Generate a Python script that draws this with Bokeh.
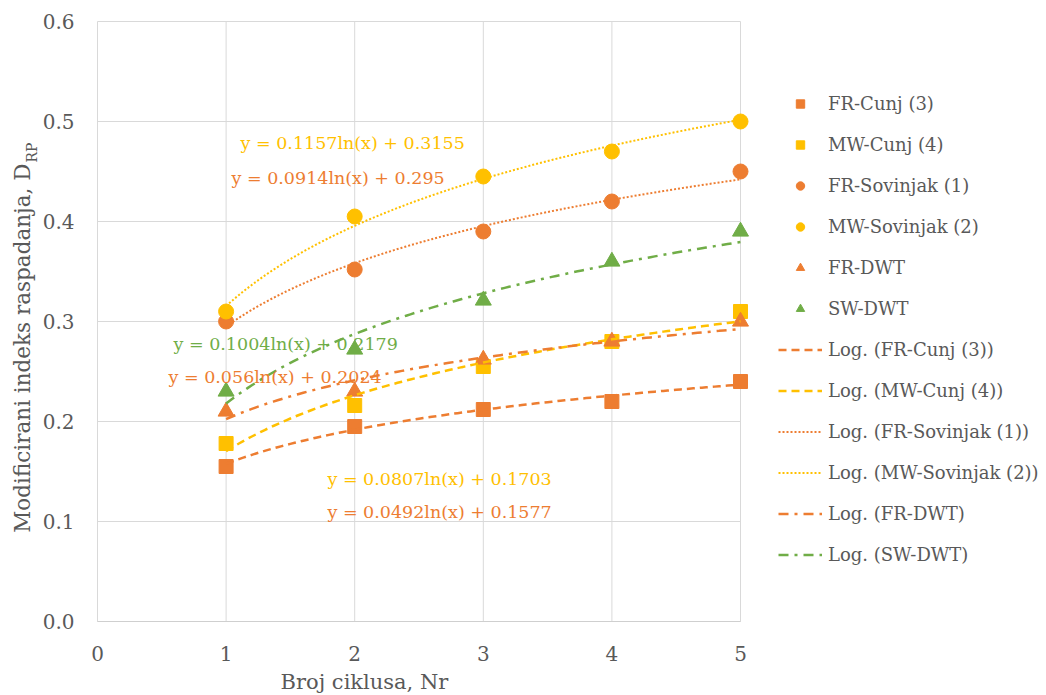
import numpy as np
from math import pi
from bokeh.plotting import figure
from bokeh.models import Range1d, Legend, LegendItem, Label, FixedTicker, NumeralTickFormatter
from bokeh.embed import file_html
from bokeh.resources import INLINE

# ---- data ----
cycles = [1, 2, 3, 4, 5]
fr_cunj = [0.155, 0.195, 0.212, 0.220, 0.240]
mw_cunj = [0.178, 0.216, 0.255, 0.280, 0.310]
fr_sov = [0.300, 0.352, 0.390, 0.420, 0.450]
mw_sov = [0.310, 0.405, 0.445, 0.470, 0.500]
fr_dwt = [0.210, 0.230, 0.262, 0.280, 0.300]
sw_dwt = [0.230, 0.272, 0.321, 0.360, 0.390]

series_names = ["FR-Cunj (3)", "MW-Cunj (4)", "FR-Sovinjak (1)",
                "MW-Sovinjak (2)", "FR-DWT", "SW-DWT"]
series_values = [fr_cunj, mw_cunj, fr_sov, mw_sov, fr_dwt, sw_dwt]

# logarithmic trendlines y = a ln(x) + b (from the chart's equations)
trend_a = [0.0492, 0.0807, 0.0914, 0.1157, 0.056, 0.1004]
trend_b = [0.1577, 0.1703, 0.295, 0.3155, 0.2024, 0.2179]

eq_texts = ["y = 0.1157ln(x) + 0.3155", "y = 0.0914ln(x) + 0.295",
            "y = 0.1004ln(x) + 0.2179", "y = 0.056ln(x) + 0.2024",
            "y = 0.0807ln(x) + 0.1703", "y = 0.0492ln(x) + 0.1577"]

x_ticks = [0, 1, 2, 3, 4, 5]
y_ticks = [0.0, 0.1, 0.2, 0.3, 0.4, 0.5, 0.6]

x_title = "Broj ciklusa, Nr"
y_title = "Modificirani indeks raspadanja, D"
y_title_sub = "RP"

# ---- styles / geometry ----
ORANGE = "#ED7D31"
YELLOW = "#FFC000"
GREEN = "#70AD47"
TXT = "#595959"
GRID = "#D9D9D9"
FONT = "DejaVu Serif"

colors = [ORANGE, YELLOW, ORANGE, YELLOW, ORANGE, GREEN]
markers = ["square", "square", "circle", "circle", "triangle", "triangle"]
msizes = [14, 14, 15, 15, 16, 16]
dashes = ["8 5", "8 5", "2 2", "2 2", "10 6 3 6", "10 6 3 6"]
lwidths = [2.5, 2.5, 2, 2, 2.5, 2.5]

eq_x = [1.112, 1.042, 0.591, 0.552, 1.788, 1.788]
eq_y = [0.479, 0.444, 0.278, 0.245, 0.143, 0.110]
eq_colors = [YELLOW, ORANGE, GREEN, ORANGE, YELLOW, ORANGE]

W, H = 1046, 695
PX_X = 128.6      # pixels per x unit
PX_Y = 1000.0     # pixels per y unit
X0_PX, Y0_PX = 97, 621   # canvas position of the origin

p = figure(width=W, height=H, output_backend="svg", toolbar_location=None,
           x_range=Range1d(-X0_PX / PX_X, (W - X0_PX) / PX_X),
           y_range=Range1d(-(H - Y0_PX) / PX_Y, Y0_PX / PX_Y),
           min_border=0)
p.outline_line_color = None
p.background_fill_color = "white"
p.xgrid.visible = False
p.ygrid.visible = False

# gridlines limited to the plot area
p.segment(x0=x_ticks, y0=[y_ticks[0]] * len(x_ticks), x1=x_ticks,
          y1=[y_ticks[-1]] * len(x_ticks), line_color=GRID, line_width=1)
p.segment(x0=[x_ticks[0]] * len(y_ticks), y0=y_ticks, x1=[x_ticks[-1]] * len(y_ticks),
          y1=y_ticks, line_color=GRID, line_width=1)

# axes drawn at the origin
p.xaxis.fixed_location = 0
p.yaxis.fixed_location = 0
p.xaxis.ticker = FixedTicker(ticks=x_ticks)
p.yaxis.ticker = FixedTicker(ticks=y_ticks)
p.yaxis.formatter = NumeralTickFormatter(format="0.0")
p.xaxis.bounds = (x_ticks[0], x_ticks[-1])
p.yaxis.bounds = (y_ticks[0], y_ticks[-1])
for ax in (p.xaxis, p.yaxis):
    ax.major_tick_line_color = None
    ax.minor_tick_line_color = None
    ax.major_label_text_font = FONT
    ax.major_label_text_font_size = "20px"
    ax.major_label_text_color = TXT
p.xaxis.axis_line_color = "#CFCFCF"
p.yaxis.axis_line_color = None
p.xaxis.major_label_standoff = 18
p.yaxis.major_label_standoff = 17

# markers
scatter_rs = []
for vals, c, m, s in zip(series_values, colors, markers, msizes):
    r = p.scatter(cycles, vals, marker=m, size=s, fill_color=c, line_color=c)
    scatter_rs.append(r)

# trendlines
xs = np.linspace(cycles[0], cycles[-1], 121)
line_rs = []
for a, b, c, d, w in zip(trend_a, trend_b, colors, dashes, lwidths):
    r = p.line(xs, a * np.log(xs) + b, line_color=c, line_dash=d, line_width=w)
    line_rs.append(r)

# equation labels
for t, x, y, c in zip(eq_texts, eq_x, eq_y, eq_colors):
    p.add_layout(Label(x=x, y=y, text=t, text_color=c, text_font=FONT,
                       text_font_size="17.5px", text_baseline="middle",
                       text_align="left"))

# axis titles
p.add_layout(Label(x=-0.583, y=0.458, text=y_title, angle=pi / 2,
                   text_align="right", text_baseline="middle",
                   text_font=FONT, text_font_size="21.5px", text_color=TXT))
p.add_layout(Label(x=-0.513, y=0.459, text=y_title_sub, angle=pi / 2,
                   text_align="left", text_baseline="middle",
                   text_font=FONT, text_font_size="14px", text_color=TXT))
p.add_layout(Label(x=2.076, y=-0.060, text=x_title, text_align="center",
                   text_baseline="middle",
                   text_font=FONT, text_font_size="21px", text_color=TXT))

# legend
items = [LegendItem(label=n, renderers=[r]) for n, r in zip(series_names, scatter_rs)]
items += [LegendItem(label="Log. (" + n + ")", renderers=[r])
          for n, r in zip(series_names, line_rs)]
legend = Legend(items=items, location=(778, 130), margin=0, padding=0,
                glyph_width=44, glyph_height=21, label_height=21, spacing=20,
                label_standoff=6, border_line_color=None,
                background_fill_alpha=0, label_text_font=FONT,
                label_text_font_size="18px", label_text_color=TXT)
p.add_layout(legend, "center")

open("out.html", "w").write(file_html(p, INLINE))
